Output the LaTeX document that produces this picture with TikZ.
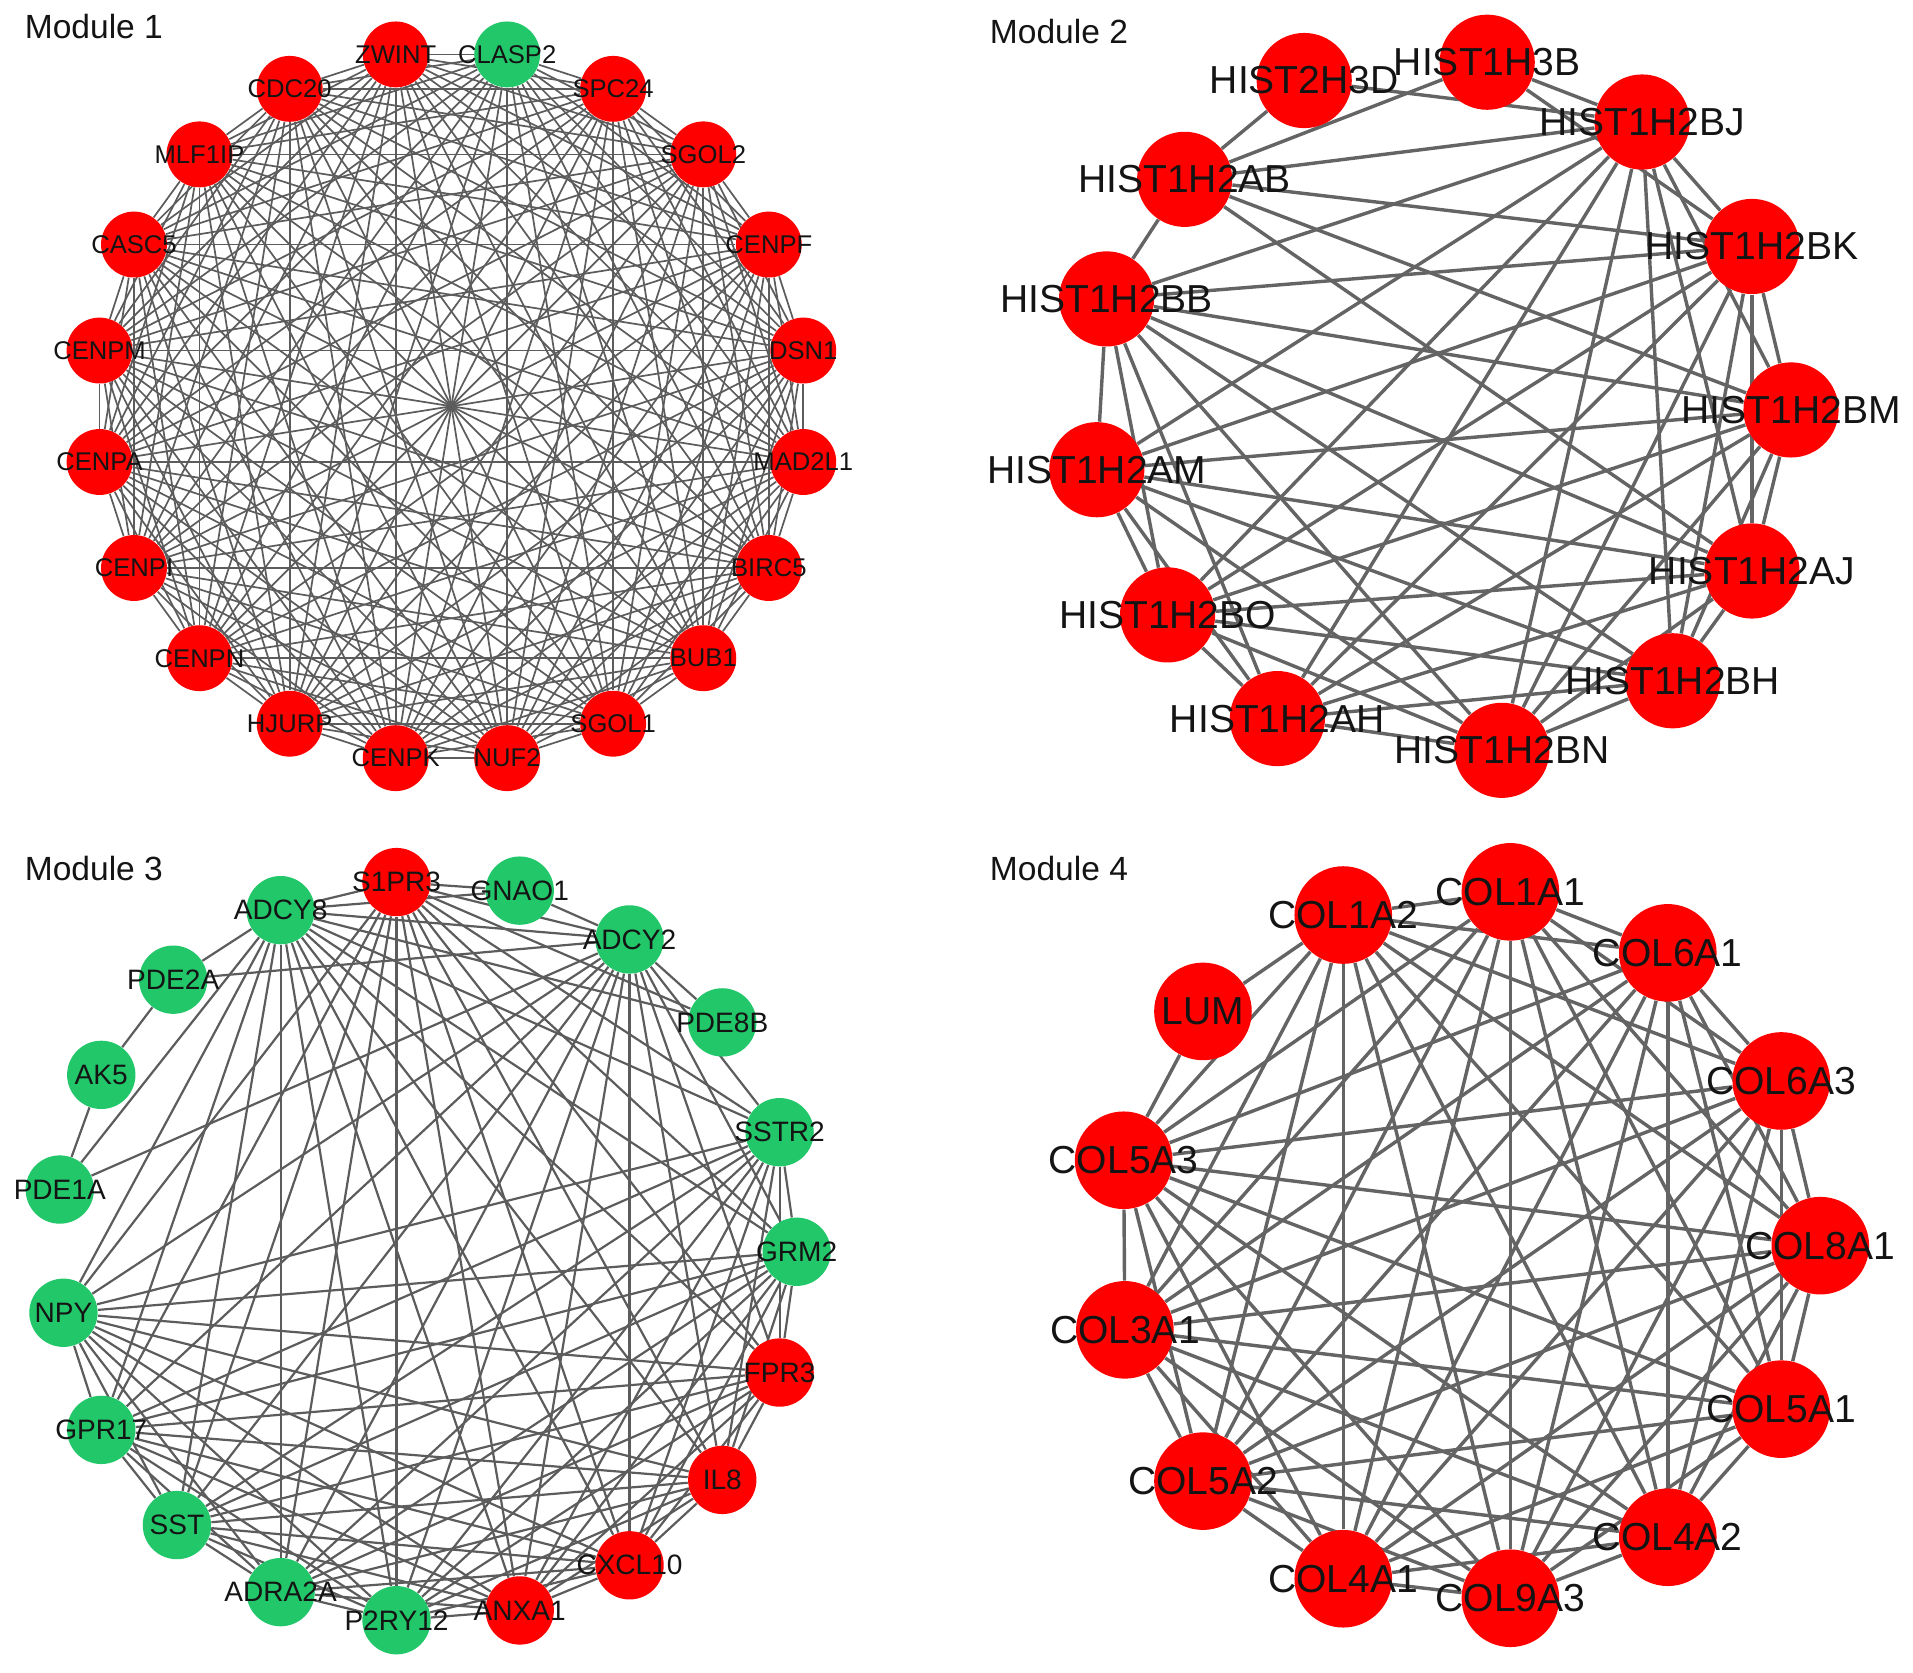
\documentclass[tikz,border=0pt]{standalone}
\usepackage{fontspec}
\setmainfont{Liberation Sans}
\pgfdeclarelayer{back}
\pgfdeclarelayer{bg}
\pgfdeclarelayer{fg}
\pgfsetlayers{back,bg,main,fg}
\definecolor{nodered}{RGB}{255,0,0}
\definecolor{nodegreen}{RGB}{34,199,106}
\definecolor{edgecol}{RGB}{100,100,100}
\definecolor{edgecolB}{RGB}{92,92,92}
\definecolor{labcol}{RGB}{20,20,20}
\tikzset{
  n1/.style={circle, inner sep=0pt, minimum size=27pt, draw=none},
  n2/.style={circle, inner sep=0pt, minimum size=39pt, draw=none, fill=nodered},
  n3/.style={circle, inner sep=0pt, minimum size=28pt, draw=none},
  n4/.style={circle, inner sep=0pt, minimum size=40pt, draw=none, fill=nodered},
  lab1/.style={font=\fontsize{10.5}{12}\selectfont, text=labcol, inner sep=0pt},
  lab2/.style={font=\fontsize{16}{18}\selectfont, text=labcol, inner sep=0pt},
  lab3/.style={font=\fontsize{11.5}{13}\selectfont, text=labcol, inner sep=0pt},
  lab4/.style={font=\fontsize{16}{18}\selectfont, text=labcol, inner sep=0pt},
  e1/.style={draw=edgecolB, line width=0.7pt},
  e2/.style={draw=edgecol, line width=1.4pt},
  e3/.style={draw=edgecolB, line width=0.9pt},
  e4/.style={draw=edgecol, line width=1.4pt},
  modtitle/.style={font=\fontsize{13.75}{16}\selectfont, anchor=west, inner sep=0pt, text=labcol}
}
\begin{document}
\begin{tikzpicture}[x=0.5pt,y=-0.5pt]
\begin{pgfonlayer}{back}
\fill[white] (0,0) rectangle (1568,1371);
\end{pgfonlayer}
\useasboundingbox (0,0) rectangle (1568,1371);

% ---------------- titles
\node[modtitle] (t1) at (20,22) {Module 1};
\node[modtitle] (t2) at (811,26) {Module 2};
\node[modtitle] (t3) at (20,712) {Module 3};
\node[modtitle] (t4) at (811,712) {Module 4};

% ---------------- Module 1 (complete graph)
\def\mA{ZWINT,CLASP2,SPC24,SGOL2,CENPF,DSN1,MAD2L1,BIRC5,BUB1,SGOL1,NUF2,CENPK,HJURP,CENPN,CENPI,CENPA,CENPM,CASC5,MLF1IP,CDC20}
\foreach \nm/\ang/\col in {ZWINT/99/nodered,CLASP2/81/nodegreen,SPC24/63/nodered,SGOL2/45/nodered,CENPF/27/nodered,DSN1/9/nodered,MAD2L1/-9/nodered,BIRC5/-27/nodered,BUB1/-45/nodered,SGOL1/-63/nodered,NUF2/-81/nodered,CENPK/-99/nodered,HJURP/-117/nodered,CENPN/-135/nodered,CENPI/-153/nodered,CENPA/-171/nodered,CENPM/171/nodered,CASC5/153/nodered,MLF1IP/135/nodered,CDC20/117/nodered}
  {\node[n1, fill=\col] (\nm) at ({370+292*cos(\ang)},{333-292*sin(\ang)}) {};}
\begin{pgfonlayer}{bg}
\foreach \a [count=\i] in \mA {\foreach \b [count=\j] in \mA {\ifnum\j>\i \draw[e1] (\a) -- (\b);\fi}}
\end{pgfonlayer}
\begin{pgfonlayer}{fg}
\foreach \nm in \mA {\node[lab1] (L\nm) at (\nm) {\nm};}
\end{pgfonlayer}

% ---------------- Module 2
\foreach \nm/\x/\y in {HIST2H3D/1069/66,HIST1H3B/1219/51,HIST1H2BJ/1346/100,HIST1H2AB/971/147,HIST1H2BK/1436/202,HIST1H2BB/907/245,HIST1H2BM/1468/336,HIST1H2AM/899/385,HIST1H2AJ/1436/468,HIST1H2BO/957/504,HIST1H2BH/1371/558,HIST1H2AH/1047/589,HIST1H2BN/1231/615}
  {\node[n2] (\nm) at (\x,\y) {};}
\def\mB{HIST1H2BJ,HIST1H2BK,HIST1H2BM,HIST1H2AJ,HIST1H2BH,HIST1H2BN,HIST1H2AH,HIST1H2BO,HIST1H2AM,HIST1H2BB}
\def\mBall{HIST2H3D,HIST1H3B,HIST1H2AB,HIST1H2BJ,HIST1H2BK,HIST1H2BM,HIST1H2AJ,HIST1H2BH,HIST1H2BN,HIST1H2AH,HIST1H2BO,HIST1H2AM,HIST1H2BB}
\begin{pgfonlayer}{bg}
\foreach \a [count=\i] in \mB {\foreach \b [count=\j] in \mB {\ifnum\j>\i \draw[e2] (\a) -- (\b);\fi}}
\foreach \a/\b in {HIST2H3D/HIST1H2AB,HIST2H3D/HIST1H2BJ,HIST1H3B/HIST1H2AB,HIST1H3B/HIST1H2BJ,HIST1H3B/HIST1H2BK,HIST1H2AB/HIST1H2BB,HIST1H2AB/HIST1H2BJ,HIST1H2AB/HIST1H2BK,HIST1H2AB/HIST1H2BM,HIST1H2AB/HIST1H2AJ}
  {\draw[e2] (\a) -- (\b);}
\end{pgfonlayer}
\begin{pgfonlayer}{fg}
\foreach \nm in \mBall {\node[lab2] (L\nm) at (\nm) {\nm};}
\end{pgfonlayer}

% ---------------- Module 3
\foreach \nm/\x/\y/\col in {S1PR3/325/723/nodered,GNAO1/426/730/nodegreen,ADCY8/230/746/nodegreen,ADCY2/516/770/nodegreen,PDE2A/142/803/nodegreen,PDE8B/592/838/nodegreen,AK5/83/881/nodegreen,SSTR2/639/928/nodegreen,PDE1A/49/975/nodegreen,GRM2/653/1026/nodegreen,NPY/52/1076/nodegreen,FPR3/639/1125/nodered,GPR17/83/1172/nodegreen,IL8/592/1213/nodered,SST/145/1250/nodegreen,CXCL10/516/1283/nodered,ADRA2A/230/1305/nodegreen,ANXA1/426/1320/nodered,P2RY12/325/1328/nodegreen}
  {\node[n3, fill=\col] (\nm) at (\x,\y) {};}
\def\mC{S1PR3,ADCY8,ADCY2,SSTR2,GRM2,FPR3,IL8,CXCL10,ANXA1,P2RY12,ADRA2A,SST,GPR17,NPY}
\def\mCall{GNAO1,PDE2A,PDE8B,AK5,PDE1A,S1PR3,ADCY8,ADCY2,SSTR2,GRM2,FPR3,IL8,CXCL10,ANXA1,P2RY12,ADRA2A,SST,GPR17,NPY}
\begin{pgfonlayer}{bg}
\foreach \a [count=\i] in \mC {\foreach \b [count=\j] in \mC {\ifnum\j>\i \draw[e3] (\a) -- (\b);\fi}}
\foreach \a/\b in {PDE2A/ADCY8,PDE2A/ADCY2,PDE2A/AK5,AK5/PDE1A,PDE1A/ADCY8,PDE1A/ADCY2,PDE8B/ADCY8,PDE8B/ADCY2,PDE8B/S1PR3,GNAO1/S1PR3,GNAO1/ADCY8,GNAO1/ADCY2}
  {\draw[e3] (\a) -- (\b);}
\end{pgfonlayer}
\begin{pgfonlayer}{fg}
\foreach \nm in \mCall {\node[lab3] (L\nm) at (\nm) {\nm};}
\end{pgfonlayer}

% ---------------- Module 4
\foreach \nm/\x/\y in {COL1A2/1101/750,COL1A1/1238/731,COL6A1/1367/781,LUM/986/829,COL6A3/1460/886,COL5A3/921/951,COL8A1/1492/1021,COL3A1/922/1090,COL5A1/1460/1155,COL5A2/986/1214,COL4A2/1367/1260,COL4A1/1101/1294,COL9A3/1238/1310}
  {\node[n4] (\nm) at (\x,\y) {};}
\def\mD{COL1A2,COL1A1,COL6A1,COL6A3,COL8A1,COL5A1,COL4A2,COL9A3,COL4A1,COL5A2,COL3A1,COL5A3}
\def\mDall{LUM,COL1A2,COL1A1,COL6A1,COL6A3,COL8A1,COL5A1,COL4A2,COL9A3,COL4A1,COL5A2,COL3A1,COL5A3}
\begin{pgfonlayer}{bg}
\foreach \a [count=\i] in \mD {\foreach \b [count=\j] in \mD {\ifnum\j>\i \draw[e4] (\a) -- (\b);\fi}}
\draw[e4] (LUM) -- (COL1A2);
\draw[e4] (LUM) -- (COL5A3);
\end{pgfonlayer}
\begin{pgfonlayer}{fg}
\foreach \nm in \mDall {\node[lab4] (L\nm) at (\nm) {\nm};}
\end{pgfonlayer}
\end{tikzpicture}
\end{document}
